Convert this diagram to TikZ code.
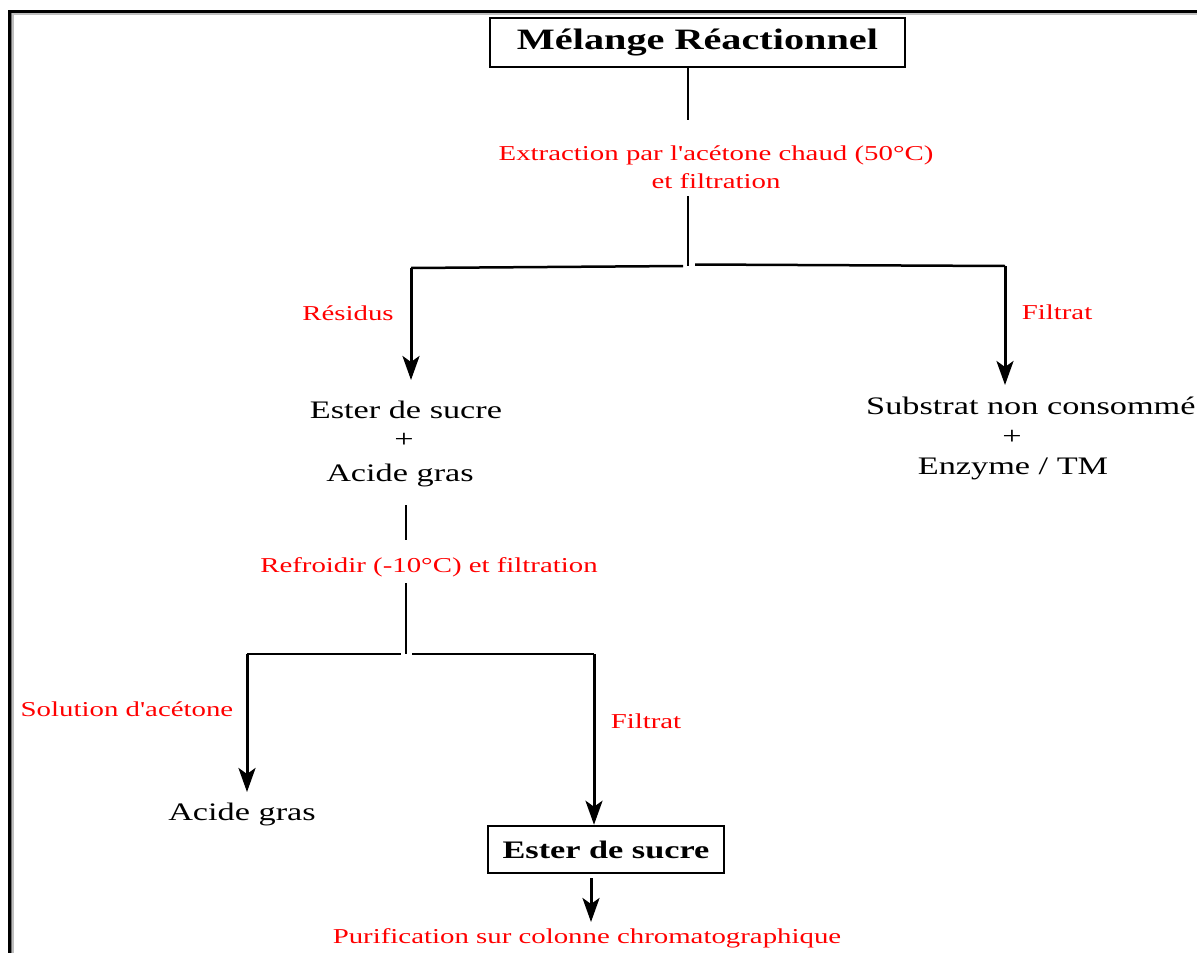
\documentclass[tikz,border=0pt]{standalone}
\usepackage{fontspec}
\usetikzlibrary{arrows.meta}
\newfontfamily\flowfont[FakeStretch=1.36]{Liberation Serif}
\definecolor{labelred}{RGB}{255,0,0}
\begin{document}
\begin{tikzpicture}[x=1pt,y=-1pt,
  line/.style={line width=2.5pt},
  arr/.style={line width=3pt,-{Stealth[length=24pt,width=17pt,inset=6pt]}},
  stepnote/.style={inner sep=0pt,text=labelred,align=center,
    font=\flowfont\fontsize{21.2}{28}\selectfont},
  product/.style={inner sep=0pt,align=center,
    font=\flowfont\fontsize{25.2}{32}\selectfont},
  keybox/.style={draw,line width=2.5pt,inner sep=0pt,
    font=\flowfont\bfseries\fontsize{25.2}{28}\selectfont}]
\useasboundingbox (0,0) rectangle (1197,953);
\fill[white] (0,0) rectangle (1197,953);
% window frame
\draw[line width=3pt] (9.5,953) -- (9.5,11) -- (1197,11);
\draw[line width=2.5pt,black!25] (13,953) -- (13,14) -- (1197,14);
\draw[line width=1pt,black!55] (11.5,953) -- (11.5,12.5);

% boxes and texts
\node[keybox,minimum width=415pt,minimum height=49pt,
  font=\flowfont\bfseries\fontsize{29.6}{30}\selectfont] (title) at (697.5,42.5) {Mélange Réactionnel};
\node[stepnote] (extract) at (716,167) {Extraction par l'acétone chaud (50°C)\\et filtration};
\node[stepnote] (resid) at (348,313) {Résidus};
\node[stepnote] (filt1) at (1057,312) {Filtrat};
% residue products
\node[product] (mixa) at (406,410) {Ester de sucre};
\node[product] (mixp) at (404,440) {+};
\node[product] (mixb) at (400,475) {Acide gras};
% filtrate products
\node[product,anchor=west] (subsa) at (866,406) {Substrat non consommé};
\node[product] (subsp) at (1012,437) {+};
\node[product] (subsb) at (1013,469) {Enzyme / TM};
\node[stepnote] (cool) at (429,567) {Refroidir (-10°C) et filtration};
\node[stepnote] (solac) at (127,709) {Solution d'acétone};
\node[stepnote] (filt2) at (646,721) {Filtrat};
\node[product] (fatty) at (242,814) {Acide gras};
\node[keybox,minimum width=236pt,minimum height=47pt] (ester) at (606,849.5) {Ester de sucre};
\node[stepnote] (purif) at (587,938) {Purification sur colonne chromatographique};

% first separation
\coordinate (a1) at (688,120);
\coordinate (a2) at (688,196);
\coordinate (j1) at (688,266);
\coordinate (j1l) at (411,268);
\coordinate (j1le) at (683,266);
\coordinate (j1rs) at (695,264.5);
\coordinate (j1r) at (1005,266);
\coordinate (t1l) at (411,380);
\coordinate (t1r) at (1005,385);
\draw[line] (title.south -| a1) -- (a1);
\draw[line] (a2) -- (j1);
\draw[line] (j1l) -- (j1le);
\draw[line] (j1rs) -- (j1r);
\draw[arr] (j1l) -- (t1l);
\draw[arr] (j1r) -- (t1r);

% second separation
\coordinate (b1) at (406,505);
\coordinate (b2) at (406,540);
\coordinate (b3) at (406,583);
\coordinate (j2) at (406,654);
\coordinate (j2l) at (247,654);
\coordinate (j2le) at (401,654);
\coordinate (j2rs) at (412,654);
\coordinate (j2r) at (594,654);
\coordinate (t2l) at (247,792);
\draw[line] (b1) -- (b2);
\draw[line] (b3) -- (j2);
\draw[line] (j2l) -- (j2le);
\draw[line] (j2rs) -- (j2r);
\draw[arr] (j2l) -- (t2l);
\draw[arr] (j2r) -- (ester.north -| j2r);

% purification
\coordinate (p1) at (591,922);
\draw[arr] (ester.south -| p1) ++(0,4) -- (p1);
\end{tikzpicture}
\end{document}
